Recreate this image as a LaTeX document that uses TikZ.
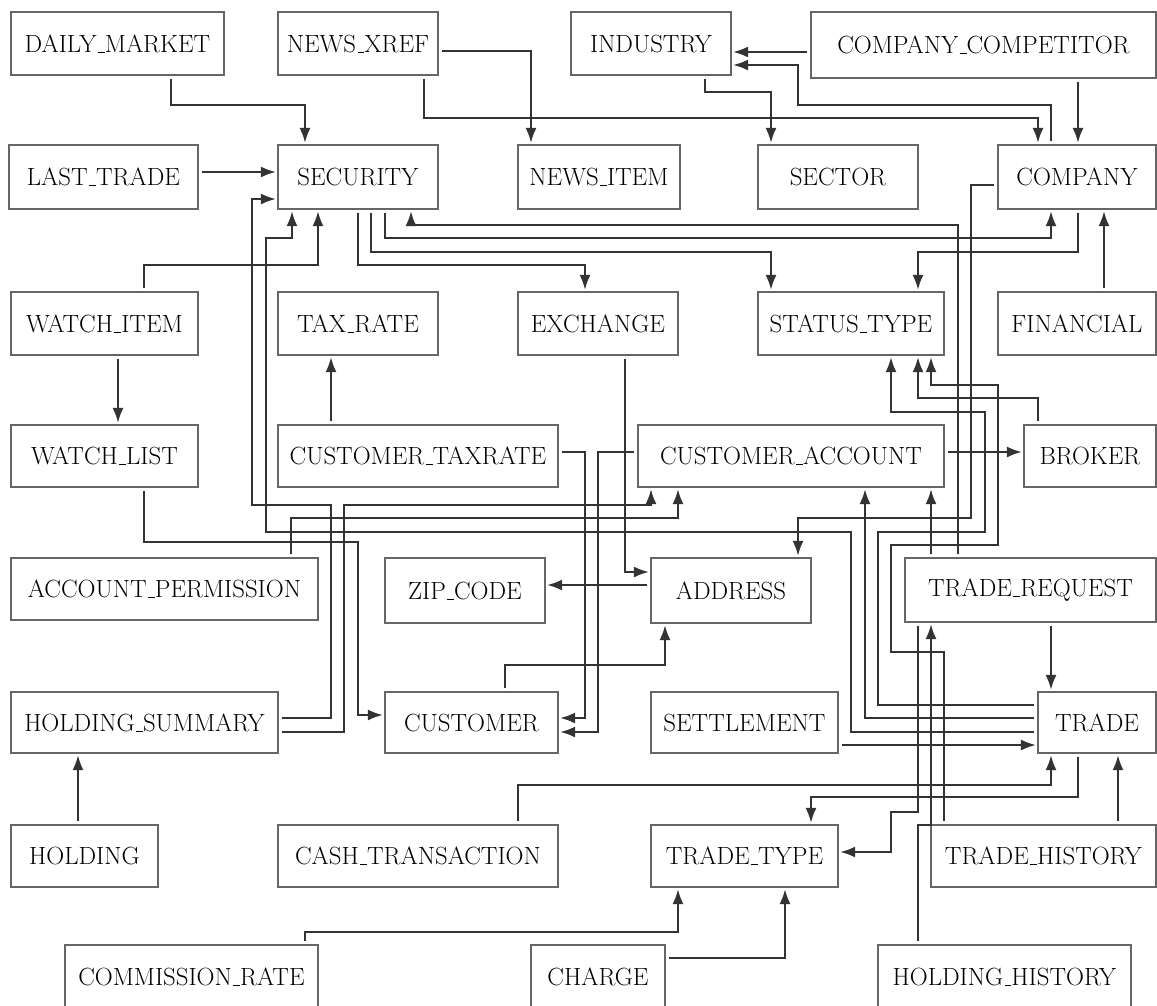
\documentclass[tikz,border=0pt]{standalone}
\usetikzlibrary{arrows.meta}

\begin{document}
\begin{tikzpicture}[x=1pt, y=-1pt,
    tbl/.style={draw=black!60, line width=1.1pt, inner sep=0pt,
      font=\fontencoding{OT1}\fontfamily{cmr}\fontsize{26}{30}\selectfont},
    fk/.style={-{Latex[length=15pt,width=11pt]}, draw=black!80,
      line width=2.2pt, shorten <=3pt, shorten >=1.5pt}]
  \useasboundingbox (0,0) rectangle (1157,1005);

  % Tabellen, Zeile fuer Zeile
  \node[tbl, minimum width=213pt, minimum height=63pt] (dm) at (117.5,43.5) {DAILY\_MARKET};
  \node[tbl, minimum width=160pt, minimum height=63pt] (nx) at (358,43.5) {NEWS\_XREF};
  \node[tbl, minimum width=160pt, minimum height=63pt] (ind) at (651,43.5) {INDUSTRY};
  \node[tbl, minimum width=345pt, minimum height=66pt] (cc) at (983.5,45) {COMPANY\_COMPETITOR};

  \node[tbl, minimum width=189pt, minimum height=64pt] (lt) at (103.5,177) {LAST\_TRADE};
  \node[tbl, minimum width=160pt, minimum height=64pt] (sec) at (358,177) {SECURITY};
  \node[tbl, minimum width=162pt, minimum height=64pt] (ni) at (599,177) {NEWS\_ITEM};
  \node[tbl, minimum width=160pt, minimum height=64pt] (sct) at (838,177) {SECTOR};
  \node[tbl, minimum width=158pt, minimum height=64pt] (co) at (1077,177) {COMPANY};

  \node[tbl, minimum width=187pt, minimum height=63pt] (wi) at (104.5,323.5) {WATCH\_ITEM};
  \node[tbl, minimum width=160pt, minimum height=63pt] (tr) at (358,323.5) {TAX\_RATE};
  \node[tbl, minimum width=160pt, minimum height=63pt] (ex) at (598,323.5) {EXCHANGE};
  \node[tbl, minimum width=186pt, minimum height=63pt] (st) at (851,323.5) {STATUS\_TYPE};
  \node[tbl, minimum width=158pt, minimum height=63pt] (fin) at (1077,323.5) {FINANCIAL};

  \node[tbl, minimum width=187pt, minimum height=62pt] (wl) at (104.5,456) {WATCH\_LIST};
  \node[tbl, minimum width=280pt, minimum height=62pt] (ctx) at (418,456) {CUSTOMER\_TAXRATE};
  \node[tbl, minimum width=306pt, minimum height=62pt] (ca) at (791,456) {CUSTOMER\_ACCOUNT};
  \node[tbl, minimum width=132pt, minimum height=62pt] (br) at (1090,456) {BROKER};

  \node[tbl, minimum width=307pt, minimum height=62pt] (ap) at (164.5,589) {ACCOUNT\_PERMISSION};
  \node[tbl, minimum width=160pt, minimum height=65pt] (zip) at (465,590.5) {ZIP\_CODE};
  \node[tbl, minimum width=160pt, minimum height=65pt] (adr) at (731,590.5) {ADDRESS};
  \node[tbl, minimum width=251pt, minimum height=64pt] (treq) at (1030.5,590) {TRADE\_REQUEST};

  \node[tbl, minimum width=267pt, minimum height=61pt] (hs) at (144.5,722.5) {HOLDING\_SUMMARY};
  \node[tbl, minimum width=173pt, minimum height=61pt] (cu) at (471.5,722.5) {CUSTOMER};
  \node[tbl, minimum width=187pt, minimum height=61pt] (set) at (744.5,722.5) {SETTLEMENT};
  \node[tbl, minimum width=118pt, minimum height=61pt] (trd) at (1097,722.5) {TRADE};

  \node[tbl, minimum width=147pt, minimum height=62pt] (hol) at (84.5,856) {HOLDING};
  \node[tbl, minimum width=280pt, minimum height=62pt] (cash) at (418,856) {CASH\_TRANSACTION};
  \node[tbl, minimum width=187pt, minimum height=62pt] (tt) at (744.5,856) {TRADE\_TYPE};
  \node[tbl, minimum width=225pt, minimum height=62pt] (th) at (1043.5,856) {TRADE\_HISTORY};

  \node[tbl, minimum width=253pt, minimum height=64pt] (cr) at (191.5,977) {COMMISSION\_RATE};
  \node[tbl, minimum width=134pt, minimum height=64pt] (chg) at (598,977) {CHARGE};
  \node[tbl, minimum width=253pt, minimum height=64pt] (hh) at (1004.5,977) {HOLDING\_HISTORY};

  % Fremdschluessel, oben
  \draw[fk] (dm.south -| 171,0) -- (171,105) -| (sec.north -| 305,0);
  \draw[fk] (nx.east |- 0,51) -| (ni.north -| 531,0);
  \draw[fk] (nx.south -| 424,0) -- (424,118) -| (co.north -| 1038,0);
  \draw[fk] (cc.west |- 0,52) -- (ind.east |- 0,52);
  \draw[fk] (co.north -| 1051,0) -- (1051,105) -| (798,65) -- (ind.east |- 0,65);
  \draw[fk] (cc.south -| 1078,0) -- (co.north -| 1078,0);
  \draw[fk] (ind.south -| 705,0) -- (705,92) -| (sct.north -| 771,0);
  \draw[fk] (lt.east |- 0,172) -- (sec.west |- 0,172);

  % SECURITY nach unten
  \draw[fk] (sec.south -| 358,0) -- (358,265) -| (ex.north -| 585,0);
  \draw[fk] (sec.south -| 371,0) -- (371,252) -| (st.north -| 771,0);
  \draw[fk] (sec.south -| 385,0) -- (385,238) -| (co.south -| 1051,0);
  \draw[fk] (treq.north -| 958,0) -- (958,225) -| (sec.south -| 411,0);
  \draw[fk] (wi.north -| 144,0) -- (144,265) -| (sec.south -| 318,0);
  \draw[fk] (wi.south -| 118,0) -- (wl.north -| 118,0);

  % COMPANY
  \draw[fk] (co.south -| 1078,0) -- (1078,252) -| (st.north -| 918,0);
  \draw[fk] (fin.north -| 1104,0) -- (co.south -| 1104,0);
  \draw[fk] (co.west |- 0,185) -| (971,518) -| (adr.north -| 798,0);

  % Kunden und Konten
  \draw[fk] (ctx.north -| 331,0) -- (tr.south -| 331,0);
  \draw[fk] (ctx.east |- 0,452) -| (585,718) -- (cu.east |- 0,718);
  \draw[fk] (ca.west |- 0,452) -| (598,732) -- (cu.east |- 0,732);
  \draw[fk] (ca.east |- 0,452) -- (br.west |- 0,452);
  \draw[fk] (br.north -| 1038,0) -- (1038,398) -| (st.south -| 918,0);
  \draw[fk] (wl.south -| 144,0) -- (144,542) -| (358,715) -- (cu.west |- 0,715);
  \draw[fk] (hs.east |- 0,718) -| (331,505) -| (252,199) -- (sec.west |- 0,199);
  \draw[fk] (hs.east |- 0,732) -| (344,505) -| (ca.south -| 651,0);
  \draw[fk] (ap.north -| 291,0) -- (291,518) -| (ca.south -| 678,0);
  \draw[fk] (hol.north -| 78,0) -- (hs.south -| 78,0);

  % Adressen
  \draw[fk] (ex.south -| 625,0) |- (adr.west |- 0,572);
  \draw[fk] (adr.west |- 0,585) -- (zip.east |- 0,585);
  \draw[fk] (cu.north -| 505,0) -- (505,665) -| (adr.south -| 665,0);

  % TRADE
  \draw[fk] (trd.west |- 0,732) -| (851,532) -| (266,238) -| (sec.south -| 292,0);
  \draw[fk] (trd.west |- 0,718) -| (ca.south -| 865,0);
  \draw[fk] (trd.west |- 0,705) -| (878,532) -| (985,412) -| (st.south -| 891,0);
  \draw[fk] (th.north -| 944,0) -- (944,652) -| (891,545) -| (998,385) -| (st.south -| 931,0);
  \draw[fk] (treq.north -| 931,0) -- (ca.south -| 931,0);
  \draw[fk] (treq.south -| 1051,0) -- (trd.north -| 1051,0);
  \draw[fk] (treq.south -| 918,0) -- (918,812) -| (891,852) -- (tt.east |- 0,852);
  \draw[fk] (hh.north -| 918,0) |- (931,825) -- (treq.south -| 931,0);
  \draw[fk] (set.east |- 0,745) -- (trd.west |- 0,745);
  \draw[fk] (cash.north -| 518,0) -- (518,785) -| (trd.south -| 1051,0);
  \draw[fk] (trd.south -| 1078,0) -- (1078,797) -| (tt.north -| 811,0);
  \draw[fk] (th.north -| 1118,0) -- (trd.south -| 1118,0);
  \draw[fk] (cr.north -| 305,0) -- (305,932) -| (tt.south -| 678,0);
  \draw[fk] (chg.east |- 0,958) -| (tt.south -| 785,0);
\end{tikzpicture}
\end{document}
